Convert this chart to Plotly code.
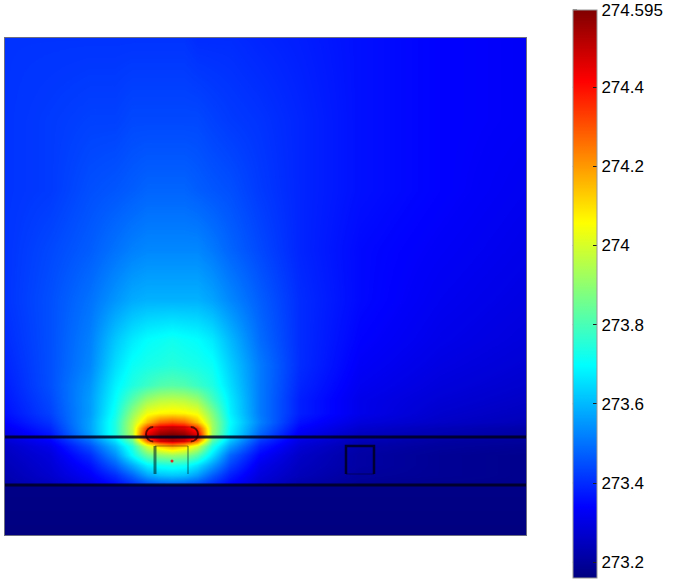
import plotly.graph_objects as go

# Grid of the temperature field (mm) and temperatures (K), bottom row first
x_mm = [0, 4.5, 8.5, 11.0, 12.7, 14.2, 15.5, 16.7, 17.9, 19.2, 20.7, 22.5, 25.5, 29.5, 35.5, 43.5, 52.1]
y_mm = [0, 4.9, 5.1, 6.0, 7.0, 8.0, 8.9, 9.5, 10.1, 10.7, 11.3, 12.2, 13.5, 15.0, 17.0, 19.5, 23.5, 28.5, 34.5, 41.5, 49.7]

temperature = [
    [273.16] * 17,
    [273.17] * 17,
    [273.22, 273.25, 273.30, 273.35, 273.40, 273.45, 273.47, 273.48, 273.47, 273.45, 273.40, 273.34, 273.27, 273.22, 273.19, 273.18, 273.18],
    [273.23, 273.27, 273.33, 273.40, 273.48, 273.57, 273.61, 273.62, 273.61, 273.56, 273.47, 273.38, 273.29, 273.24, 273.20, 273.19, 273.18],
    [273.24, 273.28, 273.36, 273.47, 273.58, 273.68, 273.72, 273.73, 273.72, 273.66, 273.56, 273.43, 273.31, 273.25, 273.21, 273.19, 273.18],
    [273.25, 273.29, 273.40, 273.54, 273.70, 273.84, 273.90, 273.92, 273.90, 273.82, 273.66, 273.48, 273.34, 273.26, 273.21, 273.19, 273.18],
    [273.26, 273.31, 273.45, 273.60, 273.75, 274.00, 274.12, 274.18, 274.12, 274.00, 273.74, 273.56, 273.38, 273.28, 273.22, 273.20, 273.19],
    [273.28, 273.34, 273.50, 273.66, 273.85, 274.30, 274.47, 274.52, 274.47, 274.30, 273.83, 273.62, 273.42, 273.30, 273.24, 273.21, 273.20],
    [273.30, 273.37, 273.56, 273.74, 273.95, 274.45, 274.57, 274.595, 274.57, 274.45, 273.92, 273.68, 273.48, 273.32, 273.25, 273.23, 273.21],
    [273.32, 273.39, 273.57, 273.74, 273.96, 274.35, 274.47, 274.50, 274.47, 274.35, 273.93, 273.69, 273.50, 273.34, 273.27, 273.24, 273.22],
    [273.34, 273.41, 273.57, 273.74, 273.95, 274.15, 274.27, 274.30, 274.27, 274.15, 273.92, 273.70, 273.52, 273.36, 273.29, 273.26, 273.24],
    [273.36, 273.43, 273.56, 273.72, 273.90, 274.04, 274.07, 274.08, 274.07, 274.04, 273.88, 273.68, 273.51, 273.38, 273.31, 273.27, 273.25],
    [273.37, 273.44, 273.56, 273.70, 273.82, 273.92, 273.96, 273.97, 273.96, 273.92, 273.80, 273.67, 273.51, 273.38, 273.31, 273.28, 273.26],
    [273.38, 273.45, 273.55, 273.68, 273.74, 273.78, 273.81, 273.82, 273.81, 273.78, 273.74, 273.65, 273.51, 273.39, 273.32, 273.29, 273.27],
    [273.39, 273.45, 273.53, 273.65, 273.71, 273.73, 273.74, 273.75, 273.74, 273.73, 273.71, 273.63, 273.51, 273.40, 273.33, 273.30, 273.28],
    [273.40, 273.45, 273.52, 273.62, 273.67, 273.70, 273.71, 273.72, 273.71, 273.70, 273.67, 273.60, 273.49, 273.40, 273.34, 273.31, 273.29],
    [273.41, 273.45, 273.50, 273.55, 273.58, 273.59, 273.59, 273.59, 273.59, 273.59, 273.57, 273.53, 273.47, 273.40, 273.35, 273.32, 273.30],
    [273.41, 273.44, 273.47, 273.50, 273.52, 273.53, 273.53, 273.53, 273.53, 273.53, 273.51, 273.48, 273.44, 273.39, 273.35, 273.33, 273.31],
    [273.41, 273.42, 273.45, 273.46, 273.47, 273.48, 273.48, 273.48, 273.48, 273.47, 273.46, 273.45, 273.42, 273.39, 273.36, 273.34, 273.32],
    [273.41, 273.42, 273.43, 273.43, 273.44, 273.44, 273.44, 273.44, 273.44, 273.44, 273.43, 273.42, 273.41, 273.39, 273.36, 273.34, 273.33],
    [273.41, 273.41, 273.41, 273.41, 273.41, 273.41, 273.41, 273.41, 273.41, 273.40, 273.40, 273.40, 273.39, 273.38, 273.36, 273.34, 273.33],
]

t_min, t_max = 273.16, 274.595
tick_values = [273.2, 273.4, 273.6, 273.8, 274.0, 274.2, 274.4, 274.595]
tick_labels = ["273.2", "273.4", "273.6", "273.8", "274", "274.2", "274.4", "274.595"]

# Geometry of the model (mm)
layer_interfaces = [5.0, 9.8]
heater = [14.1, 9.35, 19.3, 10.8]
holder_box = [15.0, 6.1, 18.3, 8.9]
sensor_box = [34.1, 6.1, 36.9, 8.9]
probe_point = [16.7, 7.4]

jet = [
    [0.0, "rgb(0,0,128)"],
    [0.125, "rgb(0,0,255)"],
    [0.375, "rgb(0,255,255)"],
    [0.625, "rgb(255,255,0)"],
    [0.875, "rgb(255,0,0)"],
    [1.0, "rgb(128,0,0)"],
]

# Colorbar placement (paper units)
cbar_y0, cbar_y1 = -0.0865, 1.0563
cbar_x0 = 1.09

fig = go.Figure()
fig.add_trace(go.Heatmap(
    x=x_mm, y=y_mm, z=temperature,
    zmin=t_min, zmax=t_max, zsmooth="best",
    colorscale=jet,
    colorbar=dict(
        x=cbar_x0, xanchor="left", xpad=0,
        y=(cbar_y0 + cbar_y1) / 2, yanchor="middle", ypad=0,
        len=568, lenmode="pixels", thickness=24,
        outlinewidth=1, outlinecolor="rgb(150,150,150)",
        tickvals=tick_values, ticktext=tick_labels,
        ticks="inside", ticklen=4, tickcolor="rgb(30,30,30)",
        tickfont=dict(family="Liberation Sans, Arial", size=17, color="black"),
    ),
    hoverinfo="skip",
))

# Probe location
fig.add_trace(go.Scatter(
    x=[probe_point[0]], y=[probe_point[1]], mode="markers",
    marker=dict(size=3, color="rgb(220,40,40)"), showlegend=False, hoverinfo="skip",
))

dark = "rgba(0,0,30,0.85)"
shapes = []
for yl in layer_interfaces:
    shapes.append(dict(type="line", xref="x", yref="y", x0=x_mm[0], x1=x_mm[-1], y0=yl, y1=yl,
                       line=dict(color=dark, width=3)))

x0, y0, x1, y1 = sensor_box
shapes.append(dict(type="path", xref="x", yref="y",
                   path=f"M {x0} {y0} L {x0} {y1} L {x1} {y1} L {x1} {y0}",
                   line=dict(color=dark, width=2.5)))
shapes.append(dict(type="line", xref="x", yref="y", x0=x0, x1=x1, y0=y0, y1=y0,
                   line=dict(color="rgba(0,0,40,0.35)", width=1.5)))

x0, y0, x1, y1 = holder_box
shapes.append(dict(type="line", xref="x", yref="y", x0=x0, x1=x0, y0=y0, y1=y1,
                   line=dict(color="rgba(0,40,40,0.6)", width=3)))
shapes.append(dict(type="line", xref="x", yref="y", x0=x1, x1=x1, y0=y0, y1=y1,
                   line=dict(color="rgba(0,40,40,0.45)", width=1.5)))
shapes.append(dict(type="line", xref="x", yref="y", x0=x0, x1=x1, y0=y1, y1=y1,
                   line=dict(color="rgba(60,20,0,0.3)", width=1.5)))

# Heater outline (stadium shape): faint sides, darker end caps
hx0, hy0, hx1, hy1 = heater
r = (hy1 - hy0) / 2
k = 0.55 * r
ym = (hy0 + hy1) / 2
shapes.append(dict(type="path", xref="x", yref="y",
                   path=f"M {hx0 + r} {hy0} L {hx1 - r} {hy0} M {hx0 + r} {hy1} L {hx1 - r} {hy1}",
                   line=dict(color="rgba(90,0,0,0.25)", width=1.5)))
shapes.append(dict(type="path", xref="x", yref="y",
                   path=(f"M {hx1 - r} {hy0} C {hx1 - r + k} {hy0} {hx1} {ym - k} {hx1} {ym} "
                         f"C {hx1} {ym + k} {hx1 - r + k} {hy1} {hx1 - r} {hy1}"),
                   line=dict(color="rgba(30,0,0,0.7)", width=2)))
shapes.append(dict(type="path", xref="x", yref="y",
                   path=(f"M {hx0 + r} {hy1} C {hx0 + r - k} {hy1} {hx0} {ym + k} {hx0} {ym} "
                         f"C {hx0} {ym - k} {hx0 + r - k} {hy0} {hx0 + r} {hy0}"),
                   line=dict(color="rgba(30,0,0,0.7)", width=2)))

# Tick dashes on the left edge of the colorbar
for v in tick_values:
    yv = cbar_y0 + (v - t_min) / (t_max - t_min) * (cbar_y1 - cbar_y0)
    shapes.append(dict(type="line", xref="paper", yref="paper",
                       x0=cbar_x0, x1=cbar_x0 + 0.008, y0=yv, y1=yv,
                       line=dict(color="rgb(30,30,30)", width=1)))

fig.update_layout(
    width=684, height=581,
    margin=dict(l=5, r=158, t=38, b=46),
    paper_bgcolor="white", plot_bgcolor="white",
    shapes=shapes,
    showlegend=False,
    xaxis=dict(range=[x_mm[0], x_mm[-1]], showticklabels=False, ticks="", showgrid=False,
               zeroline=False, showline=True, mirror=True, linecolor="rgb(110,110,130)", linewidth=1),
    yaxis=dict(range=[y_mm[0], y_mm[-1]], showticklabels=False, ticks="", showgrid=False,
               zeroline=False, showline=True, mirror=True, linecolor="rgb(110,110,130)", linewidth=1),
)

fig.write_html("out.html")
